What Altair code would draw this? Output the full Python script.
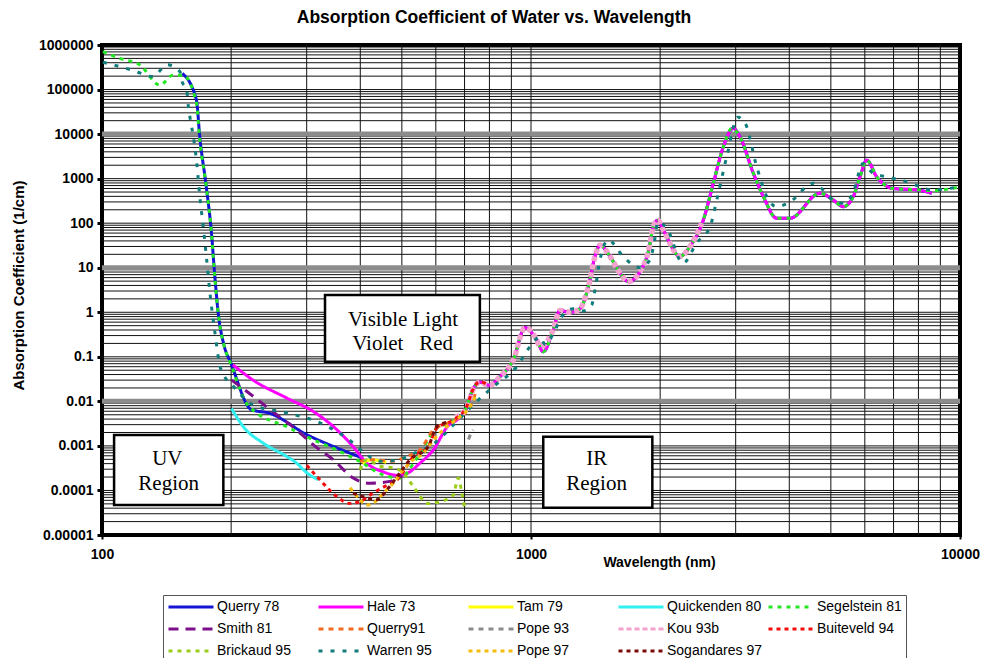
import altair as alt
import pandas as pd

# ---------------- series (legend order) and their styles ----------------
SERIES = ["Querry 78", "Hale 73", "Tam 79", "Quickenden 80", "Segelstein 81",
          "Smith 81", "Querry91", "Pope 93", "Kou 93b", "Buiteveld 94",
          "Brickaud 95", "Warren 95", "Pope 97", "Sogandares 97"]
COLORS = ["#1414D2", "#FF00FF", "#FFFF00", "#33F0F0", "#22E822",
          "#7D0E8C", "#F26B21", "#8C8C8C", "#F4A3CF", "#F20D0D",
          "#9ACD1A", "#117C7C", "#F5BE0F", "#7A0A0A"]
DASHES = [[1, 0], [1, 0], [1, 0], [1, 0], [4, 5],
          [10, 7], [5, 5], [5, 5], [5, 3], [4, 4],
          [4, 5], [4, 8], [4, 4], [4, 4]]
WIDTHS = [3, 3, 3, 3, 3, 3, 3, 3, 5.5, 3, 3, 3, 3, 3]

# ---------------- measurements: wavelength (nm), absorption (1/cm) ----------------
querry78_uv_wl = [154, 166, 169, 175, 180, 183, 187, 192, 200, 223, 246, 300, 353, 406]
querry78_uv_abs = [2.3e5, 5.8e4, 8.7e3, 660, 59, 7.5, 0.8, 0.2, 0.07, 0.0065, 0.0054,
                   0.0018, 0.0009, 0.00053]
querry78_ir_wl = [705, 735, 760, 800, 847, 909, 968, 1031, 1068, 1126, 1168, 1233, 1300,
                  1360, 1410, 1448, 1528, 1613, 1686, 1795, 1877, 1928, 1977, 2034, 2225,
                  2348, 2521, 2661, 2808, 2962, 3070, 3298, 3479, 3739, 4015, 4717, 5067,
                  5346, 5641, 5846, 6061, 6395, 6991, 7928, 8590]
querry78_ir_abs = [0.0065, 0.02, 0.027, 0.023, 0.036, 0.085, 0.45, 0.24, 0.13, 0.4, 1.1,
                   1.0, 1.2, 3.7, 18, 32, 18, 7.5, 4.9, 8.2, 23, 83, 117, 71, 18, 30, 117,
                   790, 5200, 13500, 8700, 1320, 400, 129, 129, 470, 330, 235, 400, 1100,
                   2600, 1100, 600, 560, 470]

hale73_wl = [202, 225, 270, 311, 353, 385, 414, 453, 486, 513, 551, 592, 640, 680, 705,
             735, 760, 800, 847, 909, 968, 1031, 1068, 1126, 1168, 1233, 1300, 1360, 1410,
             1448, 1528, 1613, 1686, 1795, 1877, 1928, 1977, 2034, 2225, 2348, 2521, 2661,
             2808, 2962, 3070, 3298, 3479, 3739, 4015, 4717, 5067, 5346, 5641, 5846, 6061,
             6395, 6991, 7928, 8590]
hale73_abs = [0.066, 0.03, 0.0118, 0.0059, 0.0023, 0.00096, 0.00041, 0.00026, 0.00022,
              0.00024, 0.00041, 0.00081, 0.0028, 0.0042, 0.0065, 0.02, 0.027, 0.023, 0.036,
              0.085, 0.45, 0.24, 0.13, 0.4, 1.1, 1.0, 1.2, 3.7, 18, 32, 18, 7.5, 4.9, 8.2,
              23, 83, 117, 71, 18, 30, 117, 790, 5200, 13500, 8700, 1320, 400, 129, 129,
              470, 330, 235, 400, 1100, 2600, 1100, 600, 560, 470]

tam79_wl = [405, 415, 428, 445, 460]
tam79_abs = [0.0004, 0.00047, 0.00049, 0.00046, 0.00043]

quickenden80_wl = [200.5, 213.5, 237.7, 269.5, 284.3, 300, 319.4]
quickenden80_abs = [0.0069, 0.0027, 0.00115, 0.00058, 0.00041, 0.00025, 0.000174]

segelstein81_wl = [100.5, 110, 122.6, 136.5, 146.4, 154.5, 166, 169, 175, 180, 183, 187,
                   192, 200, 217, 229.5, 269.5, 305.5, 352.5, 399, 452, 495, 540, 600,
                   650, 700, 735, 760, 800, 847, 909, 968, 1031, 1068, 1126, 1168, 1233,
                   1300, 1360, 1410, 1448, 1528, 1613, 1686, 1795, 1877, 1928, 1977, 2034,
                   2225, 2348, 2521, 2661, 2808, 2940, 3070, 3298, 3479, 3739, 4015, 4717,
                   5067, 5346, 5641, 5846, 6061, 6395, 6991, 7928, 8590, 10000]
segelstein81_abs = [7.1e5, 5e5, 3.56e5, 1.26e5, 2.1e5, 2.1e5, 5e4, 7.4e3, 660, 59, 7,
                    0.8, 0.2, 0.066, 0.0091, 0.0055, 0.0027, 0.00148, 0.00081, 0.00045,
                    0.000224, 0.00019, 0.0005, 0.0024, 0.0034, 0.006, 0.02, 0.027, 0.023,
                    0.036, 0.085, 0.45, 0.24, 0.13, 0.4, 1.1, 1.0, 1.2, 3.7, 18, 32, 18,
                    7.5, 4.9, 8.2, 23, 83, 117, 71, 18, 30, 117, 790, 5200, 13500, 8700,
                    1320, 400, 129, 129, 470, 330, 235, 400, 1100, 2600, 1100, 600, 560,
                    540, 650]

smith81_wl = [200.5, 225, 255.5, 284.3, 311, 346, 385, 421.5, 469, 499.6]
smith81_abs = [0.03, 0.013, 0.005, 0.0023, 0.00105, 0.00049, 0.00019, 0.000145, 0.00016,
               0.00022]

querry91_wl = [399.4, 428, 477, 513, 551, 592, 636, 683, 721, 747]
querry91_abs = [0.00045, 0.00049, 0.00045, 0.00058, 0.00081, 0.0023, 0.0032, 0.0045,
                0.0076, 0.018]

pope93_wl = [715, 724, 733]
pope93_abs = [0.0014, 0.0019, 0.0023]

kou93b_wl = [665, 705, 735, 760, 800, 847, 909, 968, 1031, 1049, 1126, 1168, 1233, 1300,
             1360, 1410, 1448, 1528, 1613, 1686, 1795, 1877, 1928, 1977, 2034, 2225, 2348,
             2500]
kou93b_abs = [0.0044, 0.0065, 0.02, 0.027, 0.023, 0.036, 0.085, 0.45, 0.24, 0.17, 0.4, 1.1,
              1.0, 1.2, 3.7, 18, 32, 18, 7.5, 4.9, 8.2, 23, 83, 117, 71, 18, 30, 100]

buiteveld94_wl = [300, 322, 352.5, 378.6, 399.4, 421.5, 460.9, 486.4, 503.6, 531.6, 576,
                  603, 659, 708, 734, 760, 795.5]
buiteveld94_abs = [0.00037, 0.000174, 7.3e-5, 5.1e-5, 5.6e-5, 7.9e-5, 0.00013, 0.00017,
                   0.00026, 0.00058, 0.00096, 0.0025, 0.0038, 0.0076, 0.0195, 0.0275, 0.023]

brickaud95_wl = [399.4, 414, 444.6, 477.3, 503.6, 531.6, 576, 613.7, 659, 676.8, 689.3, 700]
brickaud95_abs = [0.00029, 0.00049, 0.00035, 0.00032, 0.00025, 0.000123, 5.1e-5, 5.6e-5,
                  7.9e-5, 0.00019, 9.3e-5, 4e-5]

warren95_wl = [100.5, 118, 131.5, 141.7, 152, 153.4, 157.6, 159, 161, 163.3, 166.3, 169,
               172.2, 175.4, 178.5, 183, 189, 204, 225, 270, 322, 385, 406, 445, 495, 514,
               603, 658, 748, 815, 926, 995, 1049, 1078, 1138, 1179, 1253, 1322, 1385,
               1410, 1448, 1512, 1639, 1729, 1795, 1894, 1940, 1975, 2071, 2261, 2433,
               2614, 2710, 2859, 3037, 3153, 3358, 3543, 3739, 4015, 4550, 5067, 5338,
               5632, 5941, 6269, 6747, 7513, 8650, 10000]
warren95_abs = [4.1e5, 2.7e5, 1.95e5, 3.6e5, 2.5e5, 1.6e5, 9.7e4, 4.1e4, 1.9e4, 8.7e3,
                2.2e3, 400, 83, 15, 2.7, 0.4, 0.055, 0.02, 0.0083, 0.0055, 0.0033, 0.00116,
                0.00074, 0.00045, 0.00049, 0.00058, 0.00126, 0.0029, 0.01, 0.021, 0.06,
                0.17, 0.28, 0.19, 0.4, 0.8, 1.2, 1.07, 1.45, 3.2, 15, 42, 18, 11.6, 10, 15,
                40, 105, 78, 12.6, 36, 83, 330, 3100, 24000, 18000, 1870, 400, 235, 300,
                790, 330, 280, 470, 2200, 1320, 1100, 850, 560, 660]

pope97_wl = [378.6, 399.4, 414, 429, 452.5, 477.3, 503.6, 531.6, 560.7, 592, 636, 683,
             721, 747]
pope97_abs = [0.000115, 6.2e-5, 4.7e-5, 5.2e-5, 8.7e-5, 0.000145, 0.00029, 0.00049,
              0.00068, 0.00135, 0.0027, 0.0045, 0.0076, 0.015]

sogandares97_wl = [384.6, 406.5, 437, 460.9, 495, 522, 576, 603, 647.6]
sogandares97_abs = [8.7e-5, 7.2e-5, 6.2e-5, 0.000102, 0.00025, 0.00049, 0.00096, 0.0027,
                    0.0035]

# series name -> list of (segment wavelengths, segment values)
SEGMENTS = {
    "Querry 78": [(querry78_uv_wl, querry78_uv_abs), (querry78_ir_wl, querry78_ir_abs)],
    "Hale 73": [(hale73_wl, hale73_abs)],
    "Tam 79": [(tam79_wl, tam79_abs)],
    "Quickenden 80": [(quickenden80_wl, quickenden80_abs)],
    "Segelstein 81": [(segelstein81_wl, segelstein81_abs)],
    "Smith 81": [(smith81_wl, smith81_abs)],
    "Querry91": [(querry91_wl, querry91_abs)],
    "Pope 93": [(pope93_wl, pope93_abs)],
    "Kou 93b": [(kou93b_wl, kou93b_abs)],
    "Buiteveld 94": [(buiteveld94_wl, buiteveld94_abs)],
    "Brickaud 95": [(brickaud95_wl, brickaud95_abs)],
    "Warren 95": [(warren95_wl, warren95_abs)],
    "Pope 97": [(pope97_wl, pope97_abs)],
    "Sogandares 97": [(sogandares97_wl, sogandares97_abs)],
}

# ---------------- region annotations ----------------
box_wl = [331, 106.7, 1068]
box_wl2 = [760, 191.8, 1918]
box_abs = [2.44, 0.00176, 0.00161]
box_abs2 = [0.0778, 4.73e-5, 4.11e-5]
note_text = ["Visible Light", "Violet\u00a0\u00a0 Red", "UV", "Region", "IR", "Region"]
note_wl = [503, 502, 142, 143, 1424, 1422]
note_abs = [0.493, 0.1426, 3.64e-4, 1.05e-4, 3.64e-4, 1.05e-4]

# ---------------- axes and grid positions ----------------
X_LABELS = [100, 1000, 10000]
Y_LABELS = [1e6, 1e5, 1e4, 1e3, 100, 10, 1, 0.1, 0.01, 0.001, 0.0001, 0.00001]
x_grid = [m * 100 for m in range(2, 10)] + [1000] + [m * 1000 for m in range(2, 10)]
y_grid = [m * 10.0 ** k for k in range(-5, 6) for m in range(1, 10)
          if 1e-5 < m * 10.0 ** k < 1e6]
y_bands = [1e4, 10, 0.01]

FONT = "Liberation Sans"

x_scale = alt.Scale(type="log", domain=[100, 10000], nice=False)
y_scale = alt.Scale(type="log", domain=[1e-5, 1e6], nice=False)

x_axis = alt.Axis(values=X_LABELS, format="d", grid=False, domain=False,
                  tickSize=4, tickWidth=2, tickColor="black", labelFlush=False,
                  labelFont=FONT, labelFontSize=14, labelFontWeight="bold",
                  labelColor="black", labelPadding=8,
                  title="Wavelength (nm)", titleFont=FONT, titleFontSize=14,
                  titleFontWeight="bold", titleColor="black", titleX=557, titleY=27,
                  titleAlign="center", titleBaseline="middle")
y_axis = alt.Axis(values=Y_LABELS, format="~r", grid=False, domain=False,
                  tickSize=5, tickWidth=3, tickColor="black", labelOverlap=False,
                  labelFont=FONT, labelFontSize=14, labelFontWeight="bold",
                  labelColor="black", labelPadding=4,
                  title="Absorption Coefficient (1/cm)", titleFont=FONT,
                  titleFontSize=15, titleFontWeight="bold", titleColor="black",
                  titleX=-84, titleY=240, titleAngle=270, titleAlign="center",
                  titleBaseline="middle")

X = alt.X("wl:Q", scale=x_scale, axis=x_axis)
Y = alt.Y("abs:Q", scale=y_scale, axis=y_axis)

legend = alt.Legend(title=None, orient="none", legendX=61, legendY=550, columns=5,
                    direction="horizontal", gridAlign="all", symbolType="stroke",
                    symbolSize=2025, symbolStrokeWidth=3, clipHeight=16, labelOffset=2,
                    labelFont=FONT, labelFontSize=14, labelColor="black",
                    labelLimit=200, padding=4, rowPadding=6, columnPadding=5,
                    strokeColor="#555555", fillColor="white")
color = alt.Color("series:N", scale=alt.Scale(domain=SERIES, range=COLORS), legend=legend)
dash = alt.StrokeDash("series:N", scale=alt.Scale(domain=SERIES, range=DASHES),
                      legend=legend)

# ---------------- grid ----------------
vgrid = alt.Chart(pd.DataFrame({"wl": x_grid})).mark_rule(
    color="#111111", strokeWidth=1).encode(x=X)
hgrid = alt.Chart(pd.DataFrame({"abs": y_grid})).mark_rule(
    color="#111111", strokeWidth=1).encode(y=Y)
hbands = alt.Chart(pd.DataFrame({"abs": y_bands})).mark_rule(
    color="#8C8C8C", strokeWidth=5).encode(y=Y)

# ---------------- region boxes and labels ----------------
boxes = alt.Chart(pd.DataFrame({"wl": box_wl, "wl2": box_wl2,
                                "abs": box_abs, "abs2": box_abs2})).mark_rect(
    fill="white", stroke="black", strokeWidth=2.5).encode(
    x=X, x2="wl2:Q", y=Y, y2="abs2:Q")
notes = alt.Chart(pd.DataFrame({"wl": note_wl, "abs": note_abs, "t": note_text})).mark_text(
    font="Liberation Serif", fontSize=21, color="black", align="center",
    baseline="alphabetic").encode(x=X, y=Y, text="t:N")

# ---------------- data curves, drawn in legend order ----------------
lines = []
for name, width in zip(SERIES, WIDTHS):
    rows = []
    for seg, (wl, ab) in enumerate(SEGMENTS[name]):
        assert len(wl) == len(ab), name
        for i, (w, a) in enumerate(zip(wl, ab)):
            rows.append({"series": name, "seg": seg, "idx": i, "wl": w, "abs": a})
    lines.append(
        alt.Chart(pd.DataFrame(rows)).mark_line(
            strokeWidth=width, interpolate="monotone", clip=True).encode(
            x=X, y=Y, color=color, strokeDash=dash, detail="seg:N",
            order="idx:Q")
    )

chart = alt.layer(vgrid, hgrid, hbands, boxes, notes, *lines).properties(
    width=858, height=490,
    padding={"left": 102, "top": 45, "right": 24, "bottom": 123},
    autosize=alt.AutoSizeParams(type="none"),
    title=alt.TitleParams(text="Absorption Coefficient of Water vs. Wavelength",
                          font=FONT, fontSize=17.5, fontWeight="bold", color="black",
                          anchor="middle", frame="group", dx=-37, offset=12),
    background="white",
).configure_view(stroke="black", strokeWidth=4)

chart.save("out.html", embed_options={"renderer": "svg", "actions": False})
